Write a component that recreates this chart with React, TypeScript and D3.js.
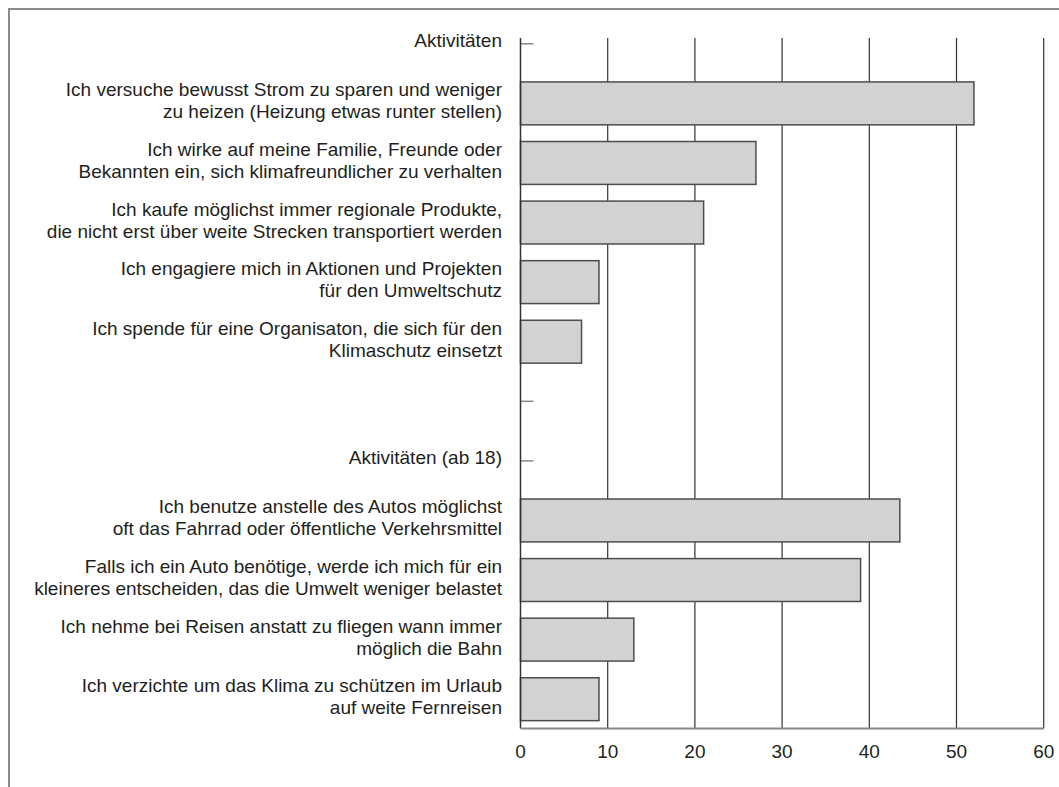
import React from "react";
import * as d3 from "d3";

const labels: string[][] = [
  ["Aktivitäten"],
  ["Ich versuche bewusst Strom zu sparen und weniger", "zu heizen (Heizung etwas runter stellen)"],
  ["Ich wirke auf meine Familie, Freunde oder", "Bekannten ein, sich klimafreundlicher zu verhalten"],
  ["Ich kaufe möglichst immer regionale Produkte,", "die nicht erst über weite Strecken transportiert werden"],
  ["Ich engagiere mich in Aktionen und Projekten", "für den Umweltschutz"],
  ["Ich spende für eine Organisaton, die sich für den", "Klimaschutz einsetzt"],
  [""],
  ["Aktivitäten (ab 18)"],
  ["Ich benutze anstelle des Autos möglichst", "oft das Fahrrad oder öffentliche Verkehrsmittel"],
  ["Falls ich ein Auto benötige, werde ich mich für ein", "kleineres entscheiden, das die Umwelt weniger belastet"],
  ["Ich nehme bei Reisen anstatt zu fliegen wann immer", "möglich die Bahn"],
  ["Ich verzichte um das Klima zu schützen im Urlaub", "auf weite Fernreisen"],
];
const values: (number | null)[] = [null, 52, 27, 21, 9, 7, null, null, 43.5, 39, 13, 9];
const xTicks = [0, 10, 20, 30, 40, 50, 60];

const W = 1059;
const H = 787;
const FONT = "'Liberation Sans', Arial, sans-serif";
const FS = 19;
const TEXT = "#231f20";

export default function App() {
  const x = d3.scaleLinear().domain([0, 60]).range([520.5, 1043.7]);
  const y = d3
    .scaleBand<number>()
    .domain(labels.map((_, i) => i))
    .range([14, 729])
    .paddingInner(0.28)
    .paddingOuter(0.14);
  const bw = y.bandwidth();
  const center = (i: number) => (y(i) as number) + bw / 2;
  const top = 38;
  const bottom = 728.5;
  const lx = 502;

  return (
    <svg
      width={W}
      height={H}
      style={{ position: "absolute", left: 0, top: 0, background: "#fff" }}
    >
      <rect x={9} y={9} width={1100} height={900} fill="#fff" stroke="#8a8a8a" strokeWidth={2} />
      {xTicks.slice(1).map((t) => (
        <line key={"g" + t} x1={x(t)} x2={x(t)} y1={top} y2={bottom} stroke="#333" strokeWidth={1.2} />
      ))}
      {labels.map((_, i) => (
        <line key={"t" + i} x1={x(0)} x2={x(0) + 13} y1={center(i)} y2={center(i)} stroke="#888" strokeWidth={1.5} />
      ))}
      {values.map((v, i) =>
        v == null ? null : (
          <rect
            key={"b" + i}
            x={x(0)}
            y={y(i)}
            width={x(v) - x(0)}
            height={bw}
            fill="#d1d2d4"
            stroke="#4d4d4d"
            strokeWidth={1.5}
          />
        )
      )}
      <line x1={x(0)} x2={x(0)} y1={top} y2={bottom} stroke="#333" strokeWidth={1.5} />
      <line x1={x(0)} x2={x(60)} y1={bottom} y2={bottom} stroke="#888" strokeWidth={2} />
      {xTicks.map((t) => (
        <text key={"x" + t} x={x(t)} y={758} textAnchor="middle" fontFamily={FONT} fontSize={FS} fill={TEXT}>
          {t}
        </text>
      ))}
      {labels.map((lines, i) => {
        const c = center(i);
        if (lines.length === 1) {
          return (
            <text key={"l" + i} x={lx} y={c + 3} textAnchor="end" fontFamily={FONT} fontSize={FS} fill={TEXT}>
              {lines[0]}
            </text>
          );
        }
        return (
          <g key={"l" + i}>
            <text x={lx} y={c - 7} textAnchor="end" fontFamily={FONT} fontSize={FS} fill={TEXT}>
              {lines[0]}
            </text>
            <text x={lx} y={c + 15} textAnchor="end" fontFamily={FONT} fontSize={FS} fill={TEXT}>
              {lines[1]}
            </text>
          </g>
        );
      })}
    </svg>
  );
}
